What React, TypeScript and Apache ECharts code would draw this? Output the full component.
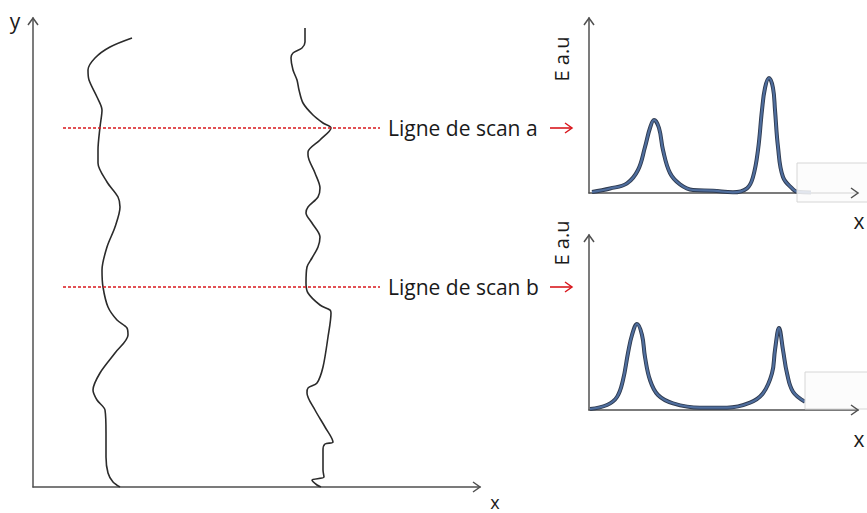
import React, { useEffect, useRef } from "react";
import * as echarts from "echarts";

// Left panel: two wavy profiles (x, y) in axis units
const profileLeft: number[][] = [
  [99, 449], [77, 440], [62, 429], [55, 417], [56, 407], [64, 390], [69, 377], [67, 360],
  [65, 337], [65, 324], [74, 305], [85, 290], [87, 280], [82, 260], [74, 240], [69, 217],
  [70, 200], [75, 180], [84, 167], [94, 159], [95, 152], [82, 134], [67, 114], [60, 97],
  [64, 87], [72, 77], [73, 54], [73, 30], [75, 14], [80, 5], [87, 0],
];
const profileRight: number[][] = [
  [272, 459], [272, 445], [269, 439], [260, 434], [258, 429], [260, 417], [264, 407], [266, 397],
  [270, 384], [280, 372], [290, 364], [298, 359], [287, 347], [275, 335], [275, 332], [282, 314],
  [287, 299], [285, 290], [275, 280], [273, 274], [279, 264], [287, 250], [285, 240], [279, 229],
  [274, 220], [273, 204], [275, 194], [287, 182], [297, 177], [298, 174], [295, 150], [290, 120],
  [284, 104], [275, 99], [274, 94], [282, 77], [292, 60], [300, 45], [292, 43], [290, 37],
  [290, 17], [291, 10], [279, 7], [284, 2], [288, 0],
];
// Scan lines (y level, x start, x end)
const scanLevels = [359, 200];
const scanXRange = [30, 347];
const scanLabels = ["Ligne de scan a", "Ligne de scan b"];

// Right panels: intensity profiles along the scan lines
const spectrumA: number[][] = [
  [3, 1], [21, 4.5], [38, 9.7], [49, 23], [56, 46], [61, 65], [65, 73], [70, 65], [74, 43],
  [81, 20], [91, 8.7], [104, 3], [124, 2.3], [144, 0.7], [158, 4.7], [164, 16], [169, 43],
  [173, 83], [176, 105], [180, 115], [184, 105], [186, 83], [189, 46], [194, 16], [204, 3.7],
  [208, 1.3], [222, 0.5],
];
const spectrumB: number[][] = [
  [1, 1], [18, 5], [28, 13], [34, 30], [39, 57], [43, 75], [48, 86], [53, 75], [56, 53],
  [61, 30], [69, 15], [84, 6.7], [111, 2.3], [138, 2.3], [161, 7.3], [174, 16.7], [183, 36.7],
  [186, 60], [190, 82], [194, 60], [198, 36.7], [204, 18.3], [216, 8.3],
];

const G0 = { left: 33, top: 18, width: 447, height: 469 };
const G1 = { left: 589, top: 18, width: 269, height: 175 };
const G2 = { left: 589, top: 235, width: 269, height: 175 };
const grids = [G0, G1, G2];

const AXIS_COLOR = "#505050";
const RED = "#d9181e";
const FONT = "Open Sans";

function arrowUp(x: number, y: number, color: string) {
  return { type: "polyline", z: 50, shape: { points: [[x - 5, y + 7], [x, y], [x + 5, y + 7]] }, style: { stroke: color, lineWidth: 1.5, fill: null } };
}
function arrowRight(x: number, y: number, color: string) {
  return { type: "polyline", z: 50, shape: { points: [[x - 7, y - 5], [x, y], [x - 7, y + 5]] }, style: { stroke: color, lineWidth: 1.5, fill: null } };
}
function label(text: string, x: number, y: number, size: number, rotation = 0, align = "center", vAlign = "middle") {
  return {
    type: "text", z: 60, x, y, rotation,
    style: { text, fill: "#1a1a1a", font: `${size}px "${FONT}"`, align, verticalAlign: vAlign },
  };
}

export default function App() {
  const ref = useRef<HTMLDivElement>(null);
  useEffect(() => {
    if (!ref.current) return;
    const chart = echarts.init(ref.current, null, { renderer: "svg" });
    const axisCommon = {
      type: "value", min: 0,
      axisLine: { show: true, onZero: false, lineStyle: { color: AXIS_COLOR, width: 1.5 } },
      axisTick: { show: false }, axisLabel: { show: false }, splitLine: { show: false },
    };
    const series: any[] = [];
    [profileLeft, profileRight].forEach((d) => {
      series.push({
        type: "line", xAxisIndex: 0, yAxisIndex: 0, data: d, smooth: 0.3, showSymbol: false,
        lineStyle: { color: "#2b2b2b", width: 1.6 }, silent: true,
      });
    });
    scanLevels.forEach((lv) => {
      series.push({
        type: "line", xAxisIndex: 0, yAxisIndex: 0, data: [[scanXRange[0], lv], [scanXRange[1], lv]],
        showSymbol: false, lineStyle: { color: RED, width: 1.4, type: [3, 2] }, z: 5,
      });
    });
    [spectrumA, spectrumB].forEach((d, i) => {
      series.push({
        type: "line", xAxisIndex: i + 1, yAxisIndex: i + 1, data: d, smooth: 0.4, showSymbol: false,
        lineStyle: { color: "#2f3b50", width: 4 }, z: 3,
      });
      series.push({
        type: "line", xAxisIndex: i + 1, yAxisIndex: i + 1, data: d, smooth: 0.4, showSymbol: false,
        lineStyle: { color: "#4f6e9e", width: 2.2 }, z: 4,
      });
    });

    const graphic: any[] = [];
    grids.forEach((g) => {
      graphic.push(arrowUp(g.left, g.top, AXIS_COLOR));
      graphic.push(arrowRight(g.left + g.width, g.top + g.height, AXIS_COLOR));
    });
    // scan labels and red arrows
    const scanPix = [128, 287];
    scanPix.forEach((py, i) => {
      graphic.push(label(scanLabels[i], 388, py, 21, 0, "left"));
      graphic.push({ type: "line", z: 60, shape: { x1: 550, y1: py, x2: 572, y2: py }, style: { stroke: RED, lineWidth: 1.6 } });
      graphic.push(arrowRight(572, py, RED));
    });
    graphic.push(label("y", 15, 21, 21));
    graphic.push(label("x", 495, 502, 18));
    graphic.push(label("x", 859, 221, 21));
    graphic.push(label("x", 859, 439, 21));
    graphic.push(label("E a.u", 561, 59, 20, Math.PI / 2));
    graphic.push(label("E a.u", 561, 243, 20, Math.PI / 2));
    // light boxes overlapping the right plots
    graphic.push({ type: "rect", z: 40, shape: { x: 797, y: 163, width: 75, height: 39 }, style: { fill: "rgba(252,252,252,0.85)", stroke: "#d6d6d6", lineWidth: 1 } });
    graphic.push({ type: "rect", z: 40, shape: { x: 805, y: 372, width: 70, height: 37 }, style: { fill: "rgba(252,252,252,0.85)", stroke: "#d6d6d6", lineWidth: 1 } });

    chart.setOption({
      animation: false,
      backgroundColor: "#fff",
      grid: grids.map((g) => ({ ...g })),
      xAxis: grids.map((g, i) => ({ ...axisCommon, gridIndex: i, max: g.width })),
      yAxis: grids.map((g, i) => ({ ...axisCommon, gridIndex: i, max: g.height })),
      series,
      graphic,
    });
    return () => chart.dispose();
  }, []);
  return <div ref={ref} style={{ position: "fixed", left: 0, top: 0, width: 867, height: 513 }} />;
}
